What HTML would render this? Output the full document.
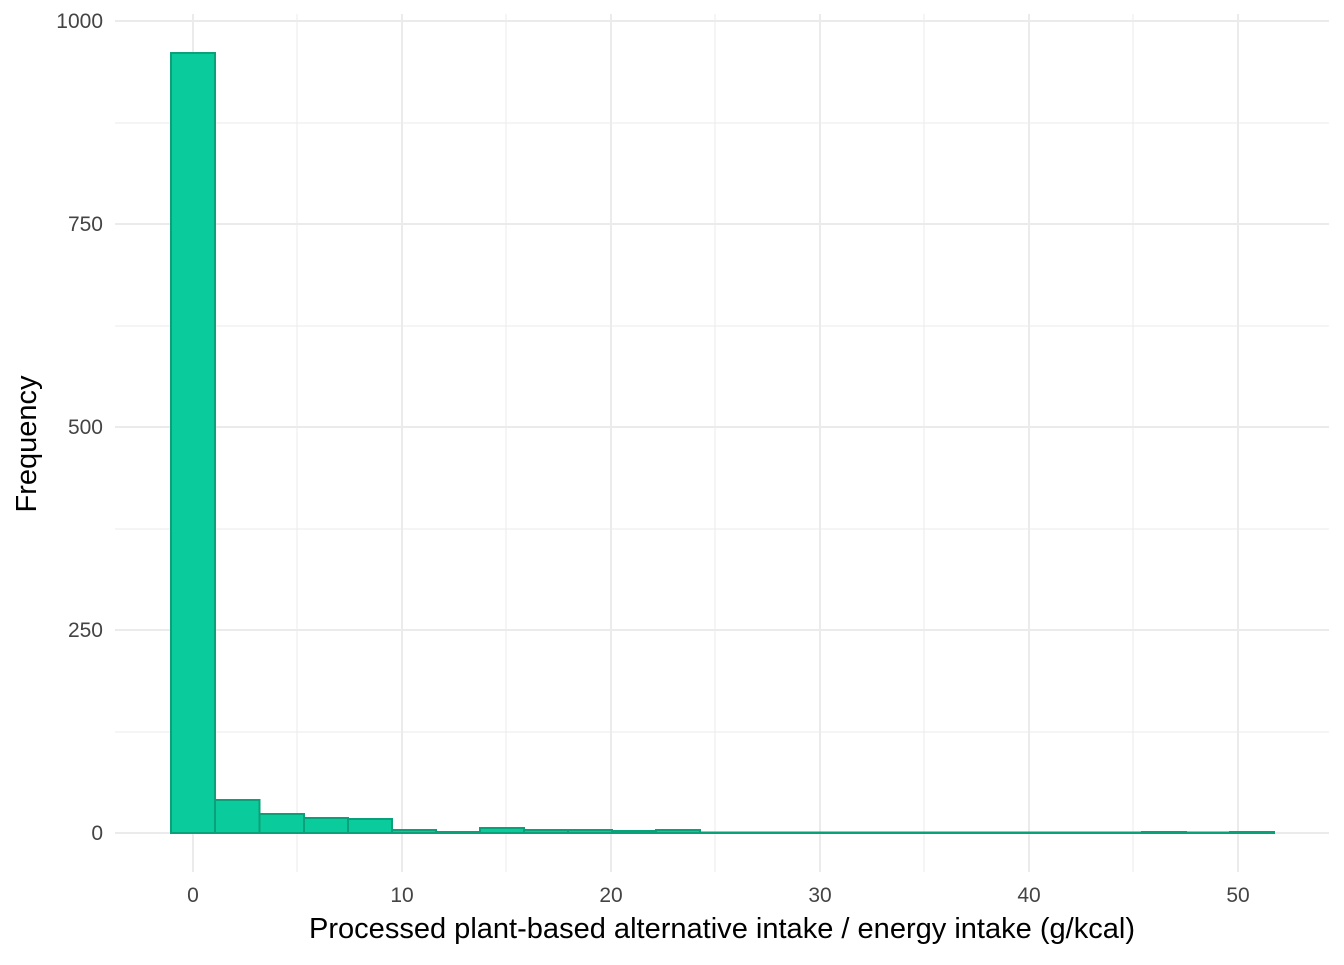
<!DOCTYPE html>
<html><head><style>body{margin:0;background:#fff}</style></head><body>
<svg width="1344" height="960" xmlns="http://www.w3.org/2000/svg" font-family="Liberation Sans, sans-serif">
<g stroke="#ebebeb" stroke-width="1">
<line x1="115" x2="1329" y1="123" y2="123"/><line x1="115" x2="1329" y1="326" y2="326"/><line x1="115" x2="1329" y1="529" y2="529"/><line x1="115" x2="1329" y1="732" y2="732"/>
<line x1="297" x2="297" y1="14" y2="872"/><line x1="506" x2="506" y1="14" y2="872"/><line x1="715" x2="715" y1="14" y2="872"/><line x1="924" x2="924" y1="14" y2="872"/><line x1="1133" x2="1133" y1="14" y2="872"/>
</g>
<g stroke="#ebebeb" stroke-width="2">
<line x1="115" x2="1329" y1="21" y2="21"/><line x1="115" x2="1329" y1="224" y2="224"/><line x1="115" x2="1329" y1="427" y2="427"/><line x1="115" x2="1329" y1="630" y2="630"/><line x1="115" x2="1329" y1="833" y2="833"/>
<line x1="193" x2="193" y1="14" y2="872"/><line x1="402" x2="402" y1="14" y2="872"/><line x1="611" x2="611" y1="14" y2="872"/><line x1="820" x2="820" y1="14" y2="872"/><line x1="1029" x2="1029" y1="14" y2="872"/><line x1="1238" x2="1238" y1="14" y2="872"/>
</g>
<g fill="#0acb9b" stroke="#0aa07a" stroke-width="2">
<rect x="171" y="53" width="44" height="780"/>
<rect x="215" y="800" width="44.5" height="33"/>
<rect x="259.5" y="814" width="44.5" height="19"/>
<rect x="304" y="818" width="44" height="15"/>
<rect x="348" y="819" width="44" height="14"/>
<rect x="392" y="830" width="44" height="3"/>
<rect x="436" y="832" width="44" height="1"/>
<rect x="480" y="828" width="44" height="5"/>
<rect x="524" y="830" width="44" height="3"/>
<rect x="568" y="830" width="44" height="3"/>
<rect x="612" y="831" width="44" height="2"/>
<rect x="656" y="830" width="44" height="3"/>
<rect x="700" y="832.5" width="442" height="0.5"/>
<rect x="1142" y="832" width="44" height="1"/>
<rect x="1186" y="832.5" width="44" height="0.5"/>
<rect x="1230" y="832" width="44" height="1"/>
</g>
<g font-size="21" fill="#444" text-anchor="end">
<text x="103" y="28">1000</text><text x="103" y="231">750</text><text x="103" y="434">500</text><text x="103" y="637">250</text><text x="103" y="840">0</text>
</g>
<g font-size="21" fill="#444" text-anchor="middle">
<text x="193" y="902">0</text><text x="402" y="902">10</text><text x="611" y="902">20</text><text x="820" y="902">30</text><text x="1029" y="902">40</text><text x="1238" y="902">50</text>
</g>
<text x="722" y="938" font-size="29" text-anchor="middle" fill="#000" textLength="826" lengthAdjust="spacingAndGlyphs">Processed plant-based alternative intake / energy intake (g/kcal)</text>
<text transform="translate(36,444) rotate(-90)" font-size="29" text-anchor="middle" fill="#000">Frequency</text>
</svg>
</body></html>
